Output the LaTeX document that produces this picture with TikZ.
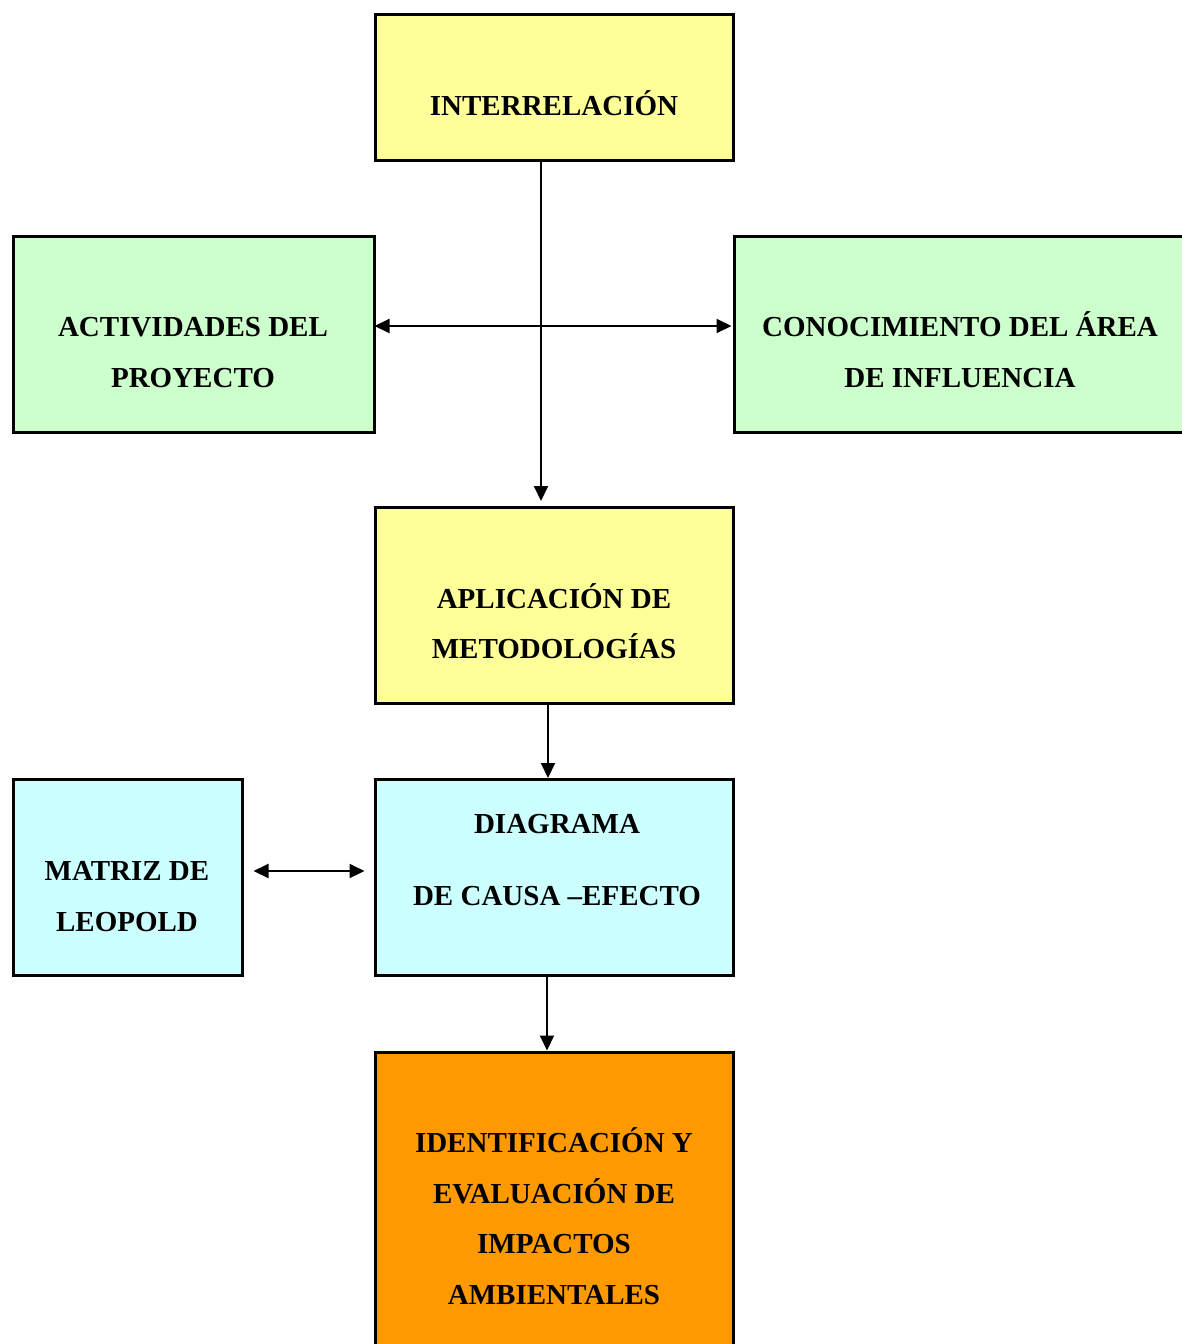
\documentclass[tikz,border=0pt]{standalone}
\usepackage{fontspec}
\setmainfont{Liberation Serif}
\usetikzlibrary{arrows.meta}
\definecolor{boxyellow}{HTML}{FFFF99}
\definecolor{boxgreen}{HTML}{CCFFCC}
\definecolor{boxcyan}{HTML}{CCFFFF}
\definecolor{boxorange}{HTML}{FF9900}
\begin{document}
\begin{tikzpicture}[x=1pt,y=-1pt,
  box/.style={draw=black,line width=3pt,rectangle,inner sep=0pt},
  txt/.style={anchor=base,inner sep=0pt,font=\fontsize{29}{35}\selectfont\bfseries},
  conn/.style={line width=2pt,-{Triangle[length=15pt,width=14pt]}},
  dconn/.style={line width=2pt,{Triangle[length=15pt,width=14pt]}-{Triangle[length=15pt,width=14pt]}}]
\useasboundingbox (0,0) rectangle (1181,1344);
% boxes
\node[box,fill=boxyellow,minimum width=358pt,minimum height=146pt] (inter) at (554,87.5) {};
\node[box,fill=boxgreen,minimum width=361pt,minimum height=196pt] (act) at (193.5,334.5) {};
\node[box,fill=boxgreen,minimum width=460pt,minimum height=196pt] (con) at (964,334.5) {};
\node[box,fill=boxyellow,minimum width=358pt,minimum height=196pt] (apl) at (554,605.5) {};
\node[box,fill=boxcyan,minimum width=358pt,minimum height=196pt] (dia) at (554,877.5) {};
\node[box,fill=boxcyan,minimum width=229pt,minimum height=196pt] (mat) at (127.5,877.5) {};
\node[box,fill=boxorange,minimum width=358pt,minimum height=320pt] (ide) at (554,1212) {};
% labels
\node[txt] (t1) at (554,115) {INTERRELACIÓN};
\node[txt] (t2a) at (193,336) {ACTIVIDADES DEL};
\node[txt] (t2b) at (193,387) {PROYECTO};
\node[txt] (t3a) at (960,336) {CONOCIMIENTO DEL ÁREA};
\node[txt] (t3b) at (960,387) {DE INFLUENCIA};
\node[txt] (t4a) at (554,608) {APLICACIÓN DE};
\node[txt] (t4b) at (554,658) {METODOLOGÍAS};
\node[txt] (t5a) at (557,833) {DIAGRAMA};
\node[txt] (t5b) at (557,905) {DE CAUSA –EFECTO};
\node[txt] (t6a) at (127,880) {MATRIZ DE};
\node[txt] (t6b) at (127,931) {LEOPOLD};
\node[txt] (t7a) at (554,1152) {IDENTIFICACIÓN Y};
\node[txt] (t7b) at (554,1203) {EVALUACIÓN DE};
\node[txt] (t7c) at (554,1253) {IMPACTOS};
\node[txt] (t7d) at (554,1304) {AMBIENTALES};
% connectors
\draw[conn,shorten >=5pt] ([xshift=-13pt]inter.south) -- ([xshift=-13pt]apl.north);
\draw[dconn,shorten <=-1pt,shorten >=1pt] ([yshift=8.5pt]act.east) -- ([yshift=8.5pt]con.west);
\draw[conn,shorten >=0pt] ([xshift=-6pt]apl.south) -- ([xshift=-6pt]dia.north);
\draw[dconn,shorten <=10pt,shorten >=9pt] ([yshift=6.5pt]mat.east) -- ([yshift=6.5pt]dia.west);
\draw[conn] ([xshift=-7pt]dia.south) -- ([xshift=-7pt]ide.north);
\end{tikzpicture}
\end{document}
